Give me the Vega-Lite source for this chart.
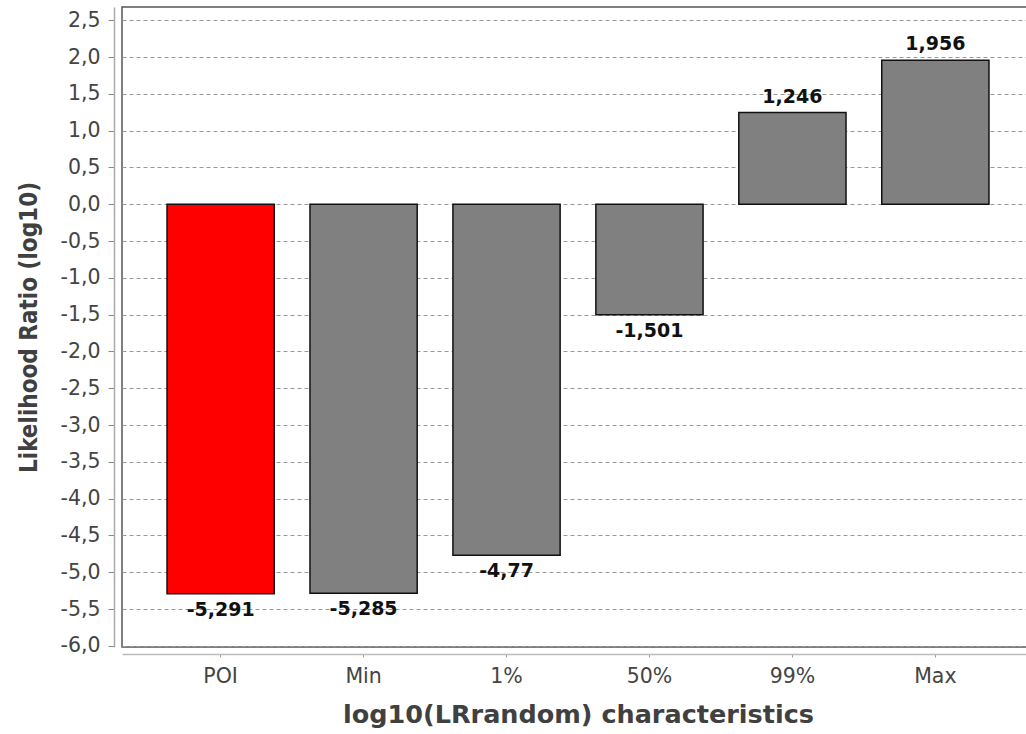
{
  "$schema": "https://vega.github.io/schema/vega-lite/v6.json",
  "autosize": {"type": "none"},
  "padding": {"left": 122, "top": 7, "right": 0, "bottom": 87},
  "width": 912,
  "height": 640,
  "background": "#ffffff",
  "config": {
    "locale": {
      "number": {"decimal": ",", "thousands": ".", "grouping": [3], "currency": ["", ""], "minus": "-"}
    },
    "view": {"stroke": "#555555", "strokeWidth": 1.5}
  },
  "data": {
    "values": [
      {"category": "POI", "value": -5.291},
      {"category": "Min", "value": -5.285},
      {"category": "1%", "value": -4.77},
      {"category": "50%", "value": -1.501},
      {"category": "99%", "value": 1.246},
      {"category": "Max", "value": 1.956}
    ]
  },
  "encoding": {
    "x": {
      "field": "category",
      "type": "nominal",
      "sort": null,
      "scale": {"paddingInner": 0.25, "paddingOuter": 0.315},
      "axis": {
        "title": "log10(LRrandom) characteristics",
        "labelAngle": 0,
        "offset": 7,
        "domainColor": "#bbbbbb",
        "domainWidth": 1.5,
        "tickColor": "#999999",
        "tickSize": 3,
        "labelFont": "DejaVu Sans",
        "labelFontSize": 20.5,
        "labelColor": "#444444",
        "labelPadding": 9,
        "titleFont": "DejaVu Sans",
        "titleFontWeight": "bold",
        "titleFontSize": 25.5,
        "titleColor": "#404040",
        "titlePadding": 16
      }
    },
    "y": {
      "field": "value",
      "type": "quantitative",
      "scale": {"domain": [-6.015, 2.68], "nice": false, "zero": false},
      "axis": {
        "title": "Likelihood Ratio (log10)",
        "values": [-6, -5.5, -5, -4.5, -4, -3.5, -3, -2.5, -2, -1.5, -1, -0.5, 0, 0.5, 1, 1.5, 2, 2.5],
        "format": ".1f",
        "offset": 8,
        "domainColor": "#aaaaaa",
        "domainWidth": 1.5,
        "tickColor": "#888888",
        "tickSize": 6,
        "labelFont": "DejaVu Sans",
        "labelFontSize": 20.5,
        "labelColor": "#444444",
        "labelPadding": 8,
        "grid": true,
        "gridColor": "#999999",
        "gridDash": [4, 3],
        "gridWidth": 1,
        "titleFont": "Liberation Sans Narrow, DejaVu Sans Condensed, Liberation Sans",
        "titleFontWeight": "bold",
        "titleFontSize": 24,
        "titleColor": "#404040",
        "titlePadding": 19
      }
    }
  },
  "layer": [
    {
      "mark": {"type": "bar", "stroke": "#111111", "strokeWidth": 1.5},
      "encoding": {
        "fill": {
          "condition": {"test": "datum.category === 'POI'", "value": "#ff0000"},
          "value": "#808080"
        }
      }
    },
    {
      "transform": [{"filter": "datum.value < 0"}],
      "mark": {"type": "text", "baseline": "top", "dy": 7, "font": "DejaVu Sans", "fontWeight": "bold", "fontSize": 19, "color": "#111111"},
      "encoding": {"text": {"field": "value", "type": "quantitative", "format": ".4~g"}}
    },
    {
      "transform": [{"filter": "datum.value >= 0"}],
      "mark": {"type": "text", "baseline": "bottom", "dy": -6, "font": "DejaVu Sans", "fontWeight": "bold", "fontSize": 19, "color": "#111111"},
      "encoding": {"text": {"field": "value", "type": "quantitative", "format": ".4~g"}}
    }
  ]
}
